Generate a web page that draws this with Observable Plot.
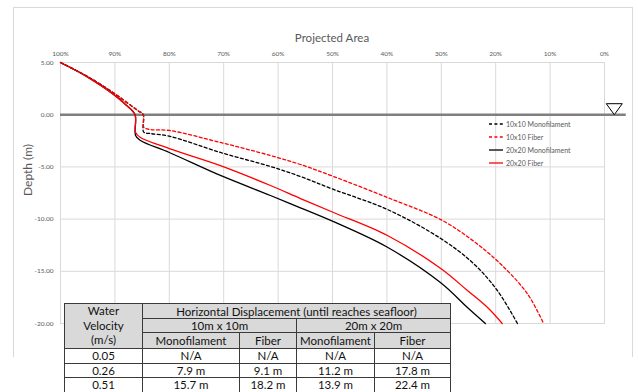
<!DOCTYPE html>
<html>
<head>
<meta charset="utf-8">
<script src="https://cdn.jsdelivr.net/npm/d3@7"></script>
<script src="https://cdn.jsdelivr.net/npm/@observablehq/plot@0.6"></script>
<style>
  body { margin: 0; background: #fff; }
  #wrap { position: relative; width: 638px; height: 392px; overflow: hidden; background: #fff; font-family: Lato, "Open Sans", sans-serif; }
  #wrap svg { position: absolute; left: 0; top: 0; }
  #border { position: absolute; left: 13px; top: 7px; width: 620px; height: 350px; border: 1px solid #d9d9d9; border-bottom: none; box-sizing: border-box; }
  #title { position: absolute; left: 332px; top: 31px; transform: translateX(-50%); font-size: 11.5px; color: #595959; white-space: nowrap; }
  #legend { position: absolute; left: 489px; top: 117px; font-size: 7px; color: #595959; }
  #legend .row { display: flex; align-items: center; height: 13px; }
  #legend svg { position: static; margin-right: 3px; }
  table { position: absolute; left: 64px; top: 303px; border-collapse: collapse; table-layout: fixed; font-family: Lato, sans-serif; font-size: 11.5px; color: #111; }
  td { border: 1.5px solid #3a3a3a; text-align: center; padding: 0; line-height: 13px; white-space: nowrap; }
  tr.h td { background: #d9d9d9; }
  td.vel { line-height: 14.7px; }
</style>
</head>
<body>
<div id="wrap">
  <div id="border"></div>
</div>
<script>
// ---- axis ticks ----
const xTicks = [100, 90, 80, 70, 60, 50, 40, 30, 20, 10, 0];
const yTicks = [5, 0, -5, -10, -15, -20];
const xTitle = "Projected Area";
const yTitle = "Depth (m)";

// ---- series (projected area %, depth m) ----
const seriesNames = ["10x10 Monofilament", "10x10 Fiber", "20x20 Monofilament", "20x20 Fiber"];
const seriesColors = ["#000000", "#ff0000", "#000000", "#ff0000"];
const seriesDashed = [true, true, false, false];

const mono10Area  = [100, 95, 90, 87.5, 85.8, 84.8, 84.7, 83.5, 80.0, 70.6, 61.4, 55.9, 49.8, 39.9, 30.1, 24.1, 19.7, 16.0];
const mono10Depth = [5, 3.65, 2.0, 1.05, 0.4, 0, -1.67, -1.8, -2.06, -3.62, -4.96, -5.92, -7.16, -9.08, -11.86, -14.25, -16.84, -20.0];

const fiber10Area  = [100, 95, 90, 87.5, 85.8, 84.8, 84.7, 83.5, 80.0, 70.6, 61.4, 55.9, 49.8, 39.9, 30.1, 24.1, 19.1, 14.2, 11.2];
const fiber10Depth = [5, 3.65, 2.0, 1.05, 0.4, 0, -1.2, -1.42, -1.51, -2.66, -3.91, -4.77, -5.92, -7.93, -10.05, -12.1, -14.3, -17.13, -20.0];

const mono20Area  = [100, 95, 90, 88, 86.3, 86.2, 85.3, 80.0, 70.6, 61.4, 55.9, 49.8, 39.9, 30.1, 25.2, 21.9];
const mono20Depth = [5, 3.6, 1.85, 0.95, 0, -1.99, -2.47, -3.62, -5.82, -7.74, -8.92, -10.25, -12.7, -16.1, -18.47, -20.0];

const fiber20Area  = [100, 95, 90, 88, 86.3, 86.2, 85.3, 80.0, 70.6, 61.4, 55.9, 49.8, 39.9, 30.1, 25.2, 21.5, 18.8];
const fiber20Depth = [5, 3.6, 1.85, 0.95, 0, -1.7, -2.18, -3.24, -4.87, -6.78, -8.03, -9.37, -11.57, -14.73, -16.84, -18.47, -20.0];

const seriesArea = [mono10Area, fiber10Area, mono20Area, fiber20Area];
const seriesDepth = [mono10Depth, fiber10Depth, mono20Depth, fiber20Depth];

// water surface line and marker
const waterLevel = 0;
const waterlineEnd = -4;
const markerArea = -1.8;

// ---- table ----
const tableHeader = "Horizontal Displacement (until reaches seafloor)";
const velHeader = ["Water", "Velocity", "(m/s)"];
const sizeHeaders = ["10m x 10m", "20m x 20m"];
const typeHeaders = ["Monofilament", "Fiber", "Monofilament", "Fiber"];
const velocities = ["0.05", "0.26", "0.51"];
const mono10Disp = ["N/A", "7.9 m", "15.7 m"];
const fiber10Disp = ["N/A", "9.1 m", "18.2 m"];
const mono20Disp = ["N/A", "11.2 m", "13.9 m"];
const fiber20Disp = ["N/A", "17.8 m", "22.4 m"];

// ---- build ----
const lineMarks = seriesNames.map((name, i) => {
  const data = seriesArea[i].map((a, j) => ({area: a, depth: seriesDepth[i][j]}));
  return Plot.line(data, {
    x: "area", y: "depth",
    stroke: seriesColors[i], strokeWidth: 1.3,
    strokeDasharray: seriesDashed[i] ? "3,2.4" : null,
    curve: "catmull-rom"
  });
});

const invTriangle = {
  draw(ctx) {
    ctx.moveTo(-8, -11);
    ctx.lineTo(8, -11);
    ctx.lineTo(0, 0);
    ctx.closePath();
  }
};

const chart = Plot.plot({
  width: 638, height: 392,
  marginLeft: 60, marginRight: 34, marginTop: 62, marginBottom: 69,
  style: {fontFamily: "Lato, sans-serif", color: "#595959", background: "transparent"},
  x: {domain: [100, 0]},
  y: {domain: [-20, 5]},
  marks: [
    Plot.gridX(xTicks, {stroke: "#d9d9d9", strokeOpacity: 1}),
    Plot.gridY(yTicks, {stroke: "#d9d9d9", strokeOpacity: 1}),
    Plot.frame({stroke: "#d9d9d9"}),
    Plot.axisX(xTicks, {anchor: "top", tickSize: 0, tickPadding: 7, tickFormat: d => d + "%", fontSize: 6.5, label: null}),
    Plot.axisY(yTicks, {anchor: "left", tickSize: 0, tickPadding: 7, tickFormat: d => d.toFixed(2), fontSize: 6.5, label: null}),
    Plot.text([yTitle], {frameAnchor: "left", dx: -32, dy: 3, rotate: -90, fontSize: 12, fill: "#595959"}),
    Plot.ruleY([waterLevel], {x1: xTicks[0], x2: waterlineEnd, stroke: "#7f7f7f", strokeWidth: 2.5}),
    Plot.dot([{a: markerArea, d: waterLevel}], {x: "a", y: "d", symbol: invTriangle, stroke: "#000", fill: "#fff", strokeWidth: 1}),
    ...lineMarks
  ]
});

const wrap = document.getElementById("wrap");
wrap.appendChild(chart);

// title
const title = document.createElement("div");
title.id = "title";
title.textContent = xTitle;
wrap.appendChild(title);

// legend
const legend = document.createElement("div");
legend.id = "legend";
seriesNames.forEach((name, i) => {
  const row = document.createElement("div");
  row.className = "row";
  row.innerHTML = `<svg width="14" height="4"><line x1="0" y1="2" x2="14" y2="2" stroke="${seriesColors[i]}" stroke-width="1.3" ${seriesDashed[i] ? 'stroke-dasharray="3,2.4"' : ''}/></svg><span>${name}</span>`;
  legend.appendChild(row);
});
wrap.appendChild(legend);

// table
const colW = [78, 97, 57, 78, 76];
let html = `<table><colgroup>${colW.map(w => `<col style="width:${w}px">`).join("")}</colgroup>`;
html += `<tr class="h" style="height:15px"><td rowspan="3" class="vel">${velHeader.join("<br>")}</td><td colspan="4">${tableHeader}</td></tr>`;
html += `<tr class="h" style="height:14px"><td colspan="2">${sizeHeaders[0]}</td><td colspan="2">${sizeHeaders[1]}</td></tr>`;
html += `<tr class="h" style="height:16px">${typeHeaders.map(t => `<td>${t}</td>`).join("")}</tr>`;
velocities.forEach((v, i) => {
  html += `<tr style="height:14.5px"><td>${v}</td><td>${mono10Disp[i]}</td><td>${fiber10Disp[i]}</td><td>${mono20Disp[i]}</td><td>${fiber20Disp[i]}</td></tr>`;
});
html += `</table>`;
wrap.insertAdjacentHTML("beforeend", html);
</script>
</body>
</html>
